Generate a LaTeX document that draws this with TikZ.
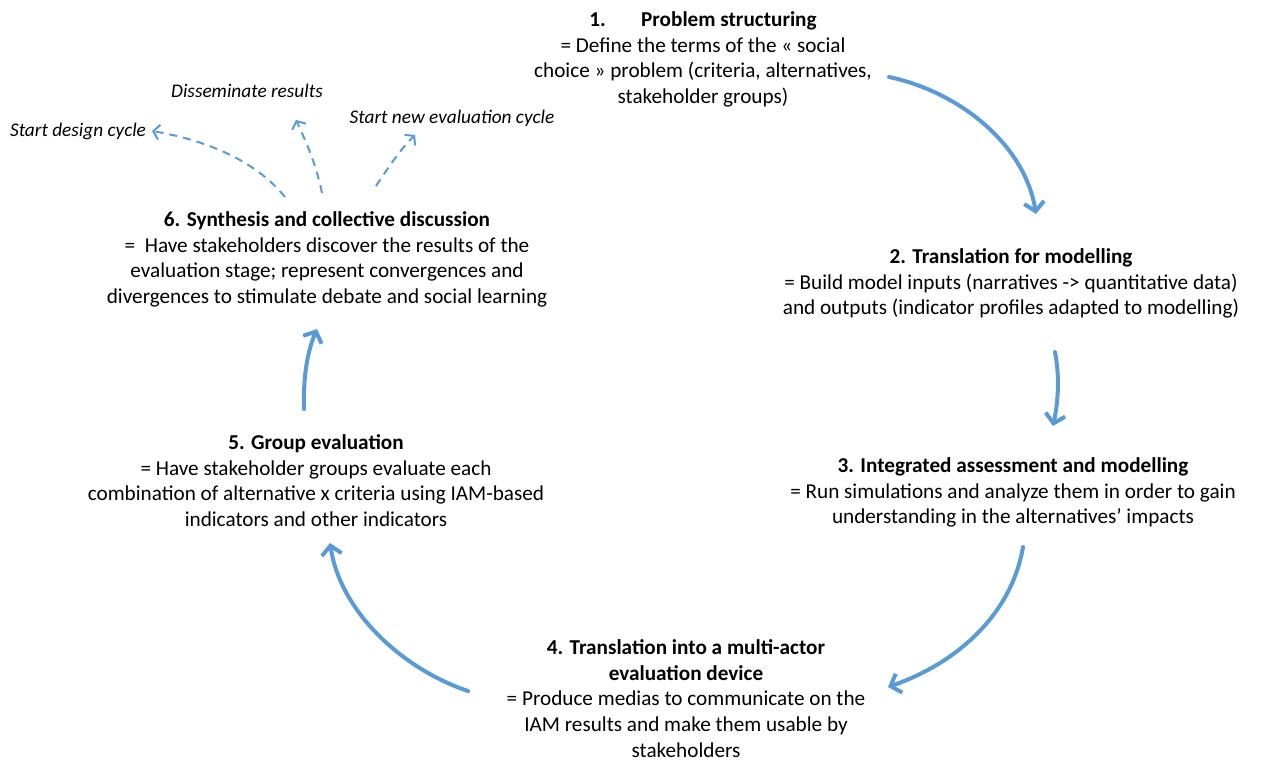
\documentclass[tikz,border=0pt]{standalone}
\usepackage{fontspec}
\setmainfont{Carlito}
\usetikzlibrary{arrows.meta}
\definecolor{arrblue}{HTML}{5B9BD5}
\tikzset{
  txt/.style={align=center, inner sep=0pt, font=\fontsize{21.2}{25.6}\selectfont},
  lbl/.style={inner sep=0pt, font=\fontsize{19.3}{23}\selectfont\itshape},
  cyc/.style={draw=arrblue, line width=4pt, line cap=round, -{Straight Barb[length=9pt,width=20pt,line width=4pt]}},
  side/.style={draw=arrblue, line width=2pt, dash pattern=on 8pt off 6pt, -{Straight Barb[length=6pt,width=15pt,line width=2pt]}}
}
\begin{document}
\begin{tikzpicture}[x=1pt,y=-1pt]
\useasboundingbox (0,0) rectangle (1262,761);
\node[txt] (s1) at (703,59.5) {\textbf{1.\hspace{1.67em}Problem structuring}\\= Define the terms of the « social\\choice » problem (criteria, alternatives,\\stakeholder groups)};
\node[txt] (s2) at (1011,283.5) {\textbf{2. Translation for modelling}\\= Build model inputs (narratives -> quantitative data)\\and outputs (indicator profiles adapted to modelling)};
\node[txt] (s3) at (1013,492.5) {\textbf{3. Integrated assessment and modelling}\\= Run simulations and analyze them in order to gain\\understanding in the alternatives’ impacts};
\node[txt] (s4) at (686,698.5) {\textbf{4. Translation into a multi-actor}\\\textbf{evaluation device}\\= Produce medias to communicate on the\\IAM results and make them usable by\\stakeholders};
\node[txt] (s5) at (316,480.5) {\textbf{5. Group evaluation}\\= Have stakeholder groups evaluate each\\combination of alternative x criteria using IAM-based\\indicators and other indicators};
\node[txt] (s6) at (327,259.5) {\textbf{6. Synthesis and collective discussion}\\=\ \ Have stakeholders discover the results of the\\evaluation stage; represent convergences and\\divergences to stimulate debate and social learning};
\node[lbl] (l1) at (78,131) {Start design cycle};
\node[lbl] (l2) at (247,91) {Disseminate results};
\node[lbl] (l3) at (452,118) {Start new evaluation cycle};
% cycle arrows
\coordinate (a1s) at (889,77); \coordinate (a1e) at (1036,214);
\coordinate (a2s) at (1055,352); \coordinate (a2e) at (1053,426);
\coordinate (a3s) at (1023,547); \coordinate (a3e) at (888,687);
\coordinate (a4s) at (468,691); \coordinate (a4e) at (330,543);
\coordinate (a5s) at (304,409); \coordinate (a5e) at (317,329);
\draw[cyc] (a1s) .. controls (960,92) and (1025,145) .. (a1e);
\draw[cyc] (a2s) .. controls (1060,378) and (1058,402) .. (a2e);
\draw[cyc] (a3s) .. controls (1012,612) and (960,662) .. (a3e);
\draw[cyc] (a4s) .. controls (400,668) and (340,610) .. (a4e);
\draw[cyc] (a5s) .. controls (303,375) and (308,350) .. (a5e);
% side arrows
\coordinate (d1s) at (285,197); \coordinate (d2s) at (322,193); \coordinate (d3s) at (376,186);
\coordinate (d1e) at (152,131); \coordinate (d2e) at (296,120); \coordinate (d3e) at (415,135);
\draw[side] (d1s) .. controls (255,160) and (205,140) .. (d1e);
\draw[side] (d2s) .. controls (315,160) and (305,140) .. (d2e);
\draw[side] (d3s) .. controls (390,165) and (400,150) .. (d3e);
\end{tikzpicture}
\end{document}
